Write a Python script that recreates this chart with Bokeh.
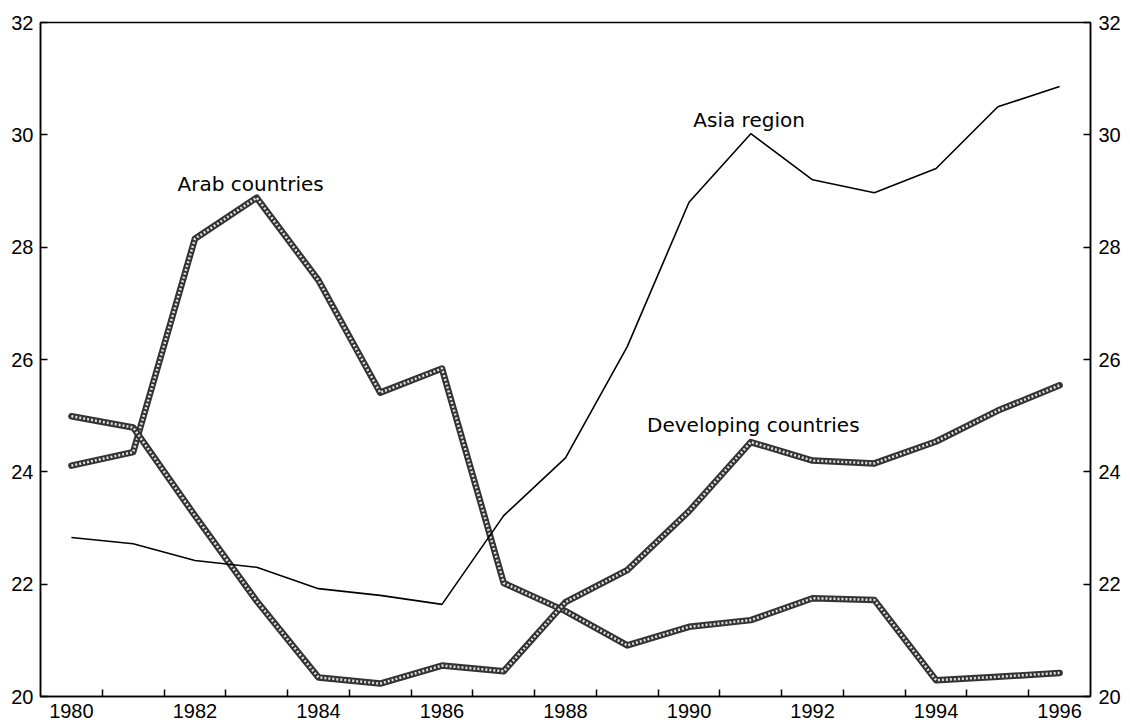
from bokeh.plotting import figure
from bokeh.models import Range1d, LinearAxis, FixedTicker
from bokeh.core.properties import value
from bokeh.embed import file_html
from bokeh.resources import INLINE

years = list(range(1980, 1997))
asia_region = [22.83, 22.72, 22.42, 22.30, 21.92, 21.80, 21.64, 23.22, 24.25, 26.23,
               28.80, 30.02, 29.20, 28.97, 29.40, 30.50, 30.86]
arab_countries = [24.11, 24.35, 28.15, 28.88, 27.41, 25.41, 25.84, 22.02, 21.52, 20.91,
                  21.24, 21.36, 21.75, 21.72, 20.29, 20.35, 20.42]
developing_countries = [24.99, 24.79, 23.22, 21.70, 20.34, 20.23, 20.55, 20.45, 21.68, 22.25,
                        23.30, 24.53, 24.20, 24.15, 24.54, 25.09, 25.54]

x_tick_labels = [1980, 1982, 1984, 1986, 1988, 1990, 1992, 1994, 1996]
y_ticks = [20, 22, 24, 26, 28, 30, 32]

label_texts = ["Arab countries", "Asia region", "Developing countries"]
label_x = [1981.72, 1990.07, 1989.32]
label_y = [29.12, 30.27, 24.84]

p = figure(frame_width=1050, frame_height=674, output_backend="svg", toolbar_location=None,
           x_range=Range1d(1979.5, 1996.5), y_range=Range1d(20, 32),
           min_border_left=40, min_border_right=32, min_border_top=22, min_border_bottom=10)
p.xgrid.visible = False
p.ygrid.visible = False
p.outline_line_color = "black"
p.outline_line_width = 1.5
p.background_fill_color = "white"
p.border_fill_color = "white"

tick_font = "Liberation Sans"
tick_size = "20px"

# x axis: labels at even years, tick marks at half-year boundaries
half_years = [y + 0.5 for y in years[:-1]]
p.xaxis.ticker = FixedTicker(ticks=x_tick_labels, minor_ticks=half_years)
p.xaxis.major_tick_in = 0
p.xaxis.major_tick_out = 0
p.xaxis.minor_tick_in = 7
p.xaxis.minor_tick_out = 0
p.xaxis.minor_tick_line_color = "black"
p.xaxis.minor_tick_line_width = 1.5
p.xaxis.axis_line_width = 1.5
p.xaxis.major_label_text_font = tick_font
p.xaxis.major_label_text_font_size = tick_size
p.xaxis.major_label_text_color = "black"
p.xaxis.major_label_standoff = 7

p.yaxis.ticker = FixedTicker(ticks=y_ticks)
p.yaxis.major_tick_in = 7
p.yaxis.major_tick_out = 0
p.yaxis.minor_tick_line_color = None
p.yaxis.axis_line_width = 1.5
p.yaxis.major_tick_line_width = 1.5
p.yaxis.major_label_text_font = tick_font
p.yaxis.major_label_text_font_size = tick_size
p.yaxis.major_label_text_color = "black"
p.yaxis.major_label_standoff = 7

right_axis = LinearAxis(ticker=FixedTicker(ticks=y_ticks))
right_axis.major_tick_in = 7
right_axis.major_tick_out = 0
right_axis.minor_tick_line_color = None
right_axis.axis_line_width = 1.5
right_axis.major_tick_line_width = 1.5
right_axis.major_label_text_font = tick_font
right_axis.major_label_text_font_size = tick_size
right_axis.major_label_text_color = "black"
right_axis.major_label_standoff = 8
p.add_layout(right_axis, "right")

# textured thick lines (chain-like pattern)
for series in (arab_countries, developing_countries):
    p.line(years, series, line_color="#333333", line_width=6.5, line_join="round", line_cap="round")
    p.line(years, series, line_color="#e0e0e0", line_width=2.5, line_dash="2 2", line_join="round")

p.line(years, asia_region, line_color="black", line_width=1.6)

p.text(x=label_x, y=label_y, text=label_texts, text_font=value("DejaVu Sans"),
       text_font_size="20px", text_baseline="middle", text_align="left", text_color="black")

open("out.html", "w").write(file_html(p, INLINE))
